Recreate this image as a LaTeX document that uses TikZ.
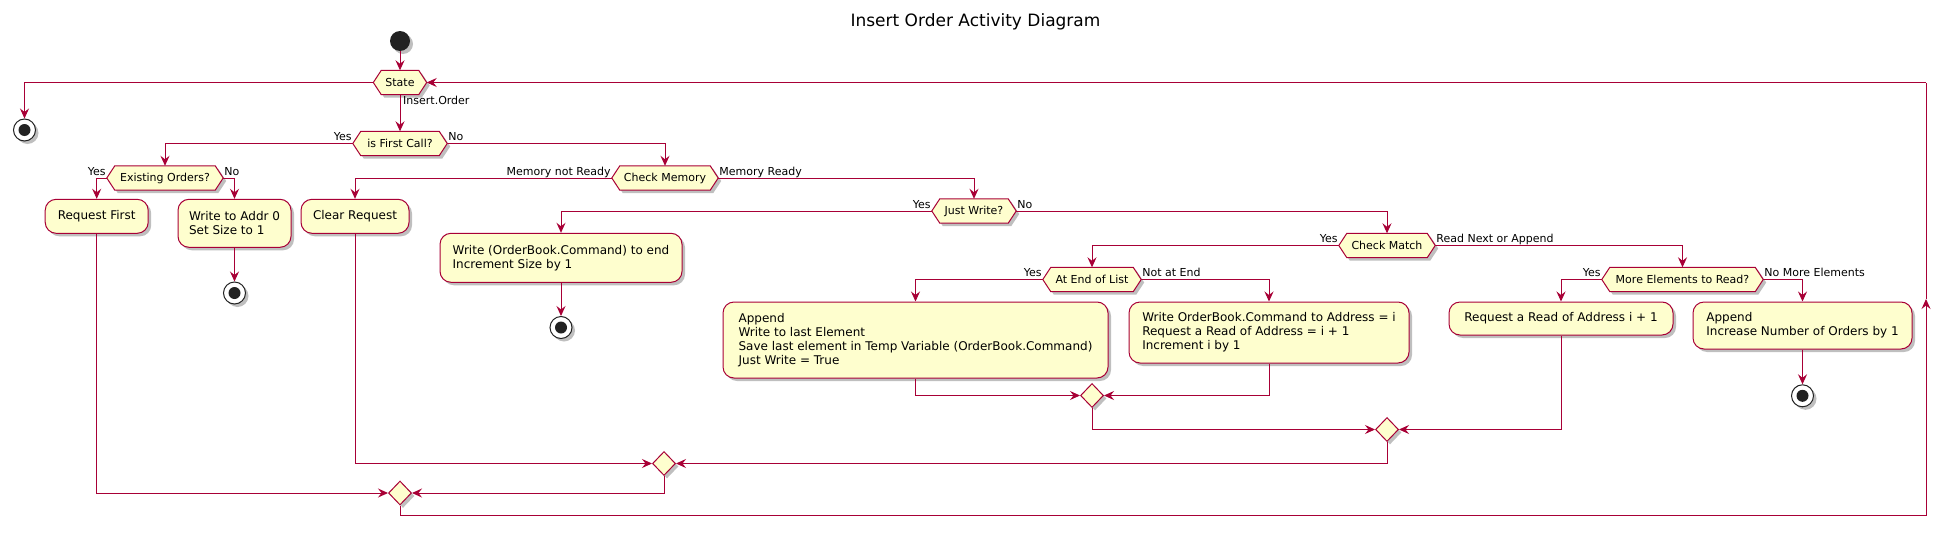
\documentclass[tikz,border=0pt]{standalone}
\usepackage{fontspec}
\setmainfont{DejaVu Sans}
\usetikzlibrary{arrows.meta,shapes.geometric,shadows,backgrounds,calc}
\definecolor{pborder}{HTML}{A80036}
\definecolor{pfill}{HTML}{FEFECE}
\definecolor{pdark}{HTML}{222222}
\tikzset{
  shad/.style={drop shadow={shadow xshift=3pt,shadow yshift=-3pt,opacity=0.25,fill=black}},
  box/.style={rectangle, rounded corners=11pt, draw=pborder, fill=pfill, line width=1pt, align=left, inner xsep=10pt, inner ysep=0pt, font=\fontsize{12}{14}\selectfont, shad},
  hexa/.style={rectangle, inner sep=0pt, minimum height=24pt, font=\fontsize{11}{13}\selectfont},
  hexdraw/.style={draw=pborder, fill=pfill, line width=1pt, shad},
  merge/.style={diamond, draw=pborder, fill=pfill, line width=1pt, inner sep=0pt, minimum width=23pt, minimum height=24pt, shad},
  startn/.style={circle, fill=pdark, minimum size=20pt, inner sep=0pt, shad},
  stopn/.style={circle, draw=pdark, fill=white, line width=1pt, minimum size=22pt, inner sep=0pt, shad,
     path picture={\fill[pdark] (path picture bounding box.center) circle (6pt);}},
  lbl/.style={font=\fontsize{11}{13}\selectfont, inner sep=0pt},
  flow/.style={draw=pborder, line width=1pt},
  arr/.style={flow, -{Stealth[length=10pt,width=9pt,inset=3.5pt]}},
}
\begin{document}
\begin{tikzpicture}[x=1pt,y=-1pt]
\useasboundingbox (0,0) rectangle (1951,538);

\node[font=\fontsize{17}{20}\selectfont, anchor=base] (title) at (975.5,26.5) {Insert Order Activity Diagram};

% start / stops
\node[startn] (start) at (400,41) {};
\node[stopn] (stop0) at (24.5,130) {};
\node[stopn] (stop1) at (234.5,293) {};
\node[stopn] (stop2) at (561,327.5) {};
\node[stopn] (stop3) at (1802.5,395.8) {};

% decisions (hexagons)
\node[hexa, minimum width=53pt]  (state) at (400,82.5) {State};
\node[hexa, minimum width=94pt]  (first) at (400,143.5) {is First Call?};
\node[hexa, minimum width=116pt] (exist) at (165,178) {Existing Orders?};
\node[hexa, minimum width=106pt] (mem)   at (665,178) {Check Memory};
\node[hexa, minimum width=84pt]  (jw)    at (974,211) {Just Write?};
\node[hexa, minimum width=96pt]  (cm)    at (1387,245.5) {Check Match};
\node[hexa, minimum width=98pt]  (eol)   at (1092,279.5) {At End of List};
\node[hexa, minimum width=161pt] (more)  at (1682.5,279.5) {More Elements to Read?};

\begin{pgfonlayer}{background}
\fill[white] (0,0) rectangle (1951,538);
\foreach \n in {state,first,exist,mem,jw,cm,eol,more}{
  \draw[hexdraw] (\n.west) -- ([xshift=8pt]\n.north west) -- ([xshift=-8pt]\n.north east) -- (\n.east)
     -- ([xshift=-8pt]\n.south east) -- ([xshift=8pt]\n.south west) -- cycle;
}
\end{pgfonlayer}

% activities
\node[box, minimum width=103pt, minimum height=34pt] (reqfirst) at (96.7,216.3) {Request First};
\node[box, minimum width=113pt, minimum height=48pt] (wraddr) at (234.5,223.3) {Write to Addr 0\\Set Size to 1};
\node[box, minimum width=108pt, minimum height=34pt] (clear) at (355,216.3) {Clear Request};
\node[box, minimum width=242pt, minimum height=49pt] (wend) at (561,257.8) {Write (OrderBook.Command) to end\\Increment Size by 1};
\node[box, minimum width=385pt, minimum height=76pt] (app) at (915.5,340) {Append\\Write to last Element\\Save last element in Temp Variable (OrderBook.Command)\\Just Write = True};
\node[box, minimum width=280pt, minimum height=61pt] (wcmd) at (1269,332.5) {Write OrderBook.Command to Address = i\\Request a Read of Address = i + 1\\Increment i by 1};
\node[box, minimum width=224pt, minimum height=33pt] (rread) at (1561,318.5) {Request a Read of Address i + 1};
\node[box, minimum width=219pt, minimum height=47pt] (app2) at (1802.5,325.5) {Append\\Increase Number of Orders by 1};

% merges
\node[merge] (m1) at (1092,395.5) {};
\node[merge] (m2) at (1387,429.5) {};
\node[merge] (m3) at (664,463.5) {};
\node[merge] (m4) at (400,493) {};

% connectors
\draw[arr] (start) -- (state);
\draw[arr] (state.west) -| (stop0.north);
\draw[arr] (state.south) -- (first.north);
\node[lbl, anchor=base west] (lio) at ([xshift=3pt,yshift=-10pt]state.south) {Insert.Order};

\draw[arr] (first.west) -| (exist.north);
\node[lbl, anchor=base east] (l1y) at ([xshift=-1pt,yshift=3pt]first.west) {Yes};
\draw[arr] (first.east) -| (mem.north);
\node[lbl, anchor=base west] (l1n) at ([xshift=1pt,yshift=3pt]first.east) {No};

\draw[arr] (exist.west) -| (reqfirst.north);
\node[lbl, anchor=base east] (l2y) at ([xshift=-1pt,yshift=3pt]exist.west) {Yes};
\draw[arr] (exist.east) -| (wraddr.north);
\node[lbl, anchor=base west] (l2n) at ([xshift=1pt,yshift=3pt]exist.east) {No};
\draw[arr] (wraddr.south) -- (stop1.north);

\draw[arr] (mem.west) -| (clear.north);
\node[lbl, anchor=base east] (l3y) at ([xshift=-1pt,yshift=3pt]mem.west) {Memory not Ready};
\draw[arr] (mem.east) -| (jw.north);
\node[lbl, anchor=base west] (l3n) at ([xshift=1pt,yshift=3pt]mem.east) {Memory Ready};

\draw[arr] (jw.west) -| (wend.north);
\node[lbl, anchor=base east] (l4y) at ([xshift=-1pt,yshift=3pt]jw.west) {Yes};
\draw[arr] (jw.east) -| (cm.north);
\node[lbl, anchor=base west] (l4n) at ([xshift=1pt,yshift=3pt]jw.east) {No};
\draw[arr] (wend.south) -- (stop2.north);

\draw[arr] (cm.west) -| (eol.north);
\node[lbl, anchor=base east] (l5y) at ([xshift=-1pt,yshift=3pt]cm.west) {Yes};
\draw[arr] (cm.east) -| (more.north);
\node[lbl, anchor=base west] (l5n) at ([xshift=1pt,yshift=3pt]cm.east) {Read Next or Append};

\draw[arr] (eol.west) -| (app.north);
\node[lbl, anchor=base east] (l6y) at ([xshift=-1pt,yshift=3pt]eol.west) {Yes};
\draw[arr] (eol.east) -| (wcmd.north);
\node[lbl, anchor=base west] (l6n) at ([xshift=1pt,yshift=3pt]eol.east) {Not at End};

\draw[arr] (more.west) -| (rread.north);
\node[lbl, anchor=base east] (l7y) at ([xshift=-1pt,yshift=3pt]more.west) {Yes};
\draw[arr] (more.east) -| (app2.north);
\node[lbl, anchor=base west] (l7n) at ([xshift=1pt,yshift=3pt]more.east) {No More Elements};
\draw[arr] (app2.south) -- (stop3.north);

\draw[arr] (app.south) |- (m1.west);
\draw[arr] (wcmd.south) |- (m1.east);
\draw[arr] (m1.south) |- (m2.west);
\draw[arr] (rread.south) |- (m2.east);
\draw[arr] (m2.south) |- (m3.east);
\draw[arr] (clear.south) |- (m3.west);
\draw[arr] (m3.south) |- (m4.east);
\draw[arr] (reqfirst.south) |- (m4.west);

\coordinate (lb) at (400,515.5);
\coordinate (lr) at (1926,515.5);
\coordinate (lm) at (1926,299);
\coordinate (tr) at (1926,82.5);
\draw[flow] (m4.south) -- (lb) -- (lr);
\draw[arr] (lr) -- (lm);
\draw[flow] (lm) -- (tr);
\draw[arr] (tr) -- (state.east);
\end{tikzpicture}
\end{document}
